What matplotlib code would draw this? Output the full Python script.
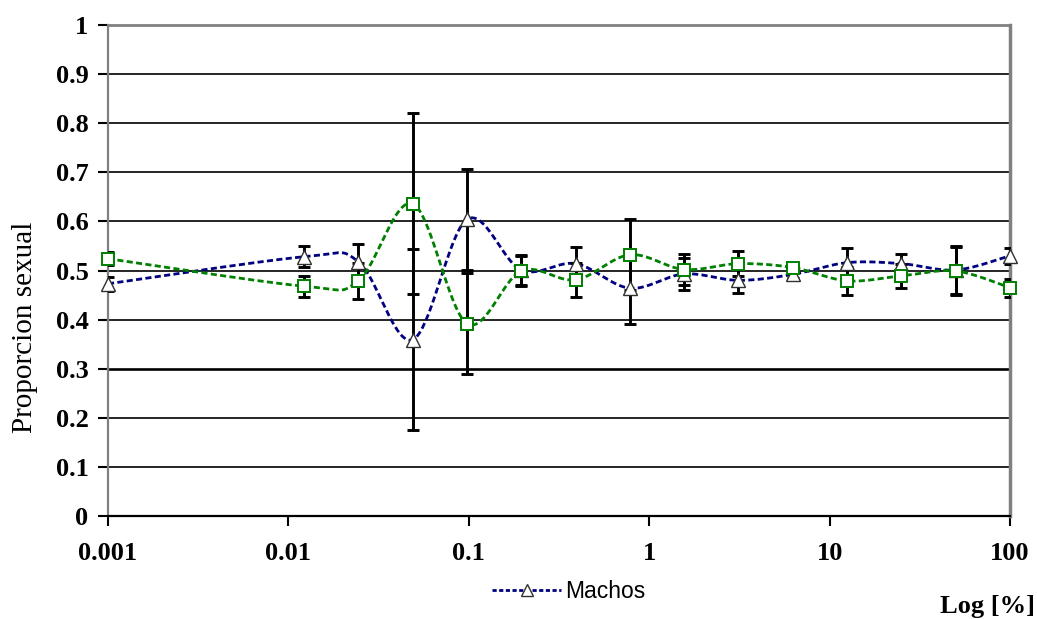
import numpy as np
import matplotlib
matplotlib.use("Agg")
import matplotlib.pyplot as plt
from matplotlib.lines import Line2D

# Concentración (%) de la serie de diluciones y proporción sexual observada
concentracion = [0.001, 0.01220703125, 0.0244140625, 0.048828125, 0.09765625,
                 0.1953125, 0.390625, 0.78125, 1.5625, 3.125, 6.25, 12.5, 25, 50, 100]
machos = [0.473, 0.528, 0.518, 0.359, 0.604, 0.501, 0.514, 0.464, 0.493,
          0.480, 0.492, 0.516, 0.514, 0.501, 0.530]
machos_err = [0.014, 0.021, 0.035, 0.184, 0.102, 0.031, 0.034, 0.072, 0.032,
              0.025, 0.008, 0.029, 0.019, 0.049, 0.016]
hembras = [0.524, 0.468, 0.479, 0.636, 0.392, 0.499, 0.481, 0.532, 0.502,
           0.514, 0.506, 0.479, 0.489, 0.499, 0.465]
hembras_err = [0.013, 0.021, 0.037, 0.184, 0.102, 0.031, 0.034, 0.072, 0.032,
               0.026, 0.008, 0.028, 0.024, 0.049, 0.018]

y_ticks = [0, 0.1, 0.2, 0.3, 0.4, 0.5, 0.6, 0.7, 0.8, 0.9, 1]
y_tick_labels = ["0", "0.1", "0.2", "0.3", "0.4", "0.5", "0.6", "0.7", "0.8", "0.9", "1"]
x_ticks = [0.001, 0.01, 0.1, 1, 10, 100]
x_tick_labels = ["0.001", "0.01", "0.1", "1", "10", "100"]

AZUL = "#000080"
VERDE = "#008000"
SERIF = ["Liberation Serif", "DejaVu Serif"]
SANS = ["Liberation Sans", "DejaVu Sans"]


def curva_suave(xs, ys, n=40):
    """Bezier smoothing through the points (log-x space), like a spreadsheet smoothed line."""
    P = np.column_stack([np.log10(xs), np.asarray(ys, dtype=float)])
    t = np.linspace(0, 1, n)[:, None]
    tramos = []
    for i in range(len(P) - 1):
        p0 = P[i - 1] if i > 0 else P[i]
        p1, p2 = P[i], P[i + 1]
        p3 = P[i + 2] if i + 2 < len(P) else P[i + 1]
        c1 = p1 + (p2 - p0) / 6.0
        c2 = p2 - (p3 - p1) / 6.0
        seg = ((1 - t) ** 3) * p1 + 3 * ((1 - t) ** 2) * t * c1 + 3 * (1 - t) * t ** 2 * c2 + t ** 3 * p2
        tramos.append(seg if i == 0 else seg[1:])
    arr = np.vstack(tramos)
    return 10 ** arr[:, 0], arr[:, 1]


fig = plt.figure(figsize=(10.37, 6.19), dpi=100)
ax = fig.add_axes([108 / 1037, 1 - 516 / 619, (1010 - 108) / 1037, (516 - 25) / 619])

ax.set_xscale("log")
ax.set_xlim(0.001, 100)
ax.set_ylim(0, 1)

# horizontal gridlines
for yv in y_ticks[1:-1]:
    ax.axhline(yv, color="black", lw=1.9 if yv == 0.3 else 1.2, zorder=0.5)

# smoothed dashed lines
xs_m, ys_m = curva_suave(concentracion, machos)
xs_h, ys_h = curva_suave(concentracion, hembras)
ax.plot(xs_m, ys_m, color=AZUL, lw=2.0, dashes=(2.2, 1.2), zorder=2)
ax.plot(xs_h, ys_h, color=VERDE, lw=2.0, dashes=(2.2, 1.2), zorder=2)

# error bars
ax.errorbar(concentracion, machos, yerr=machos_err, fmt="none", ecolor="black",
            elinewidth=2.1, capsize=4.3, capthick=2.1, zorder=3)
ax.errorbar(concentracion, hembras, yerr=hembras_err, fmt="none", ecolor="black",
            elinewidth=2.1, capsize=4.3, capthick=2.1, zorder=3)

# markers
ax.plot(concentracion, machos, ls="none", marker="^", ms=10, mfc="white",
        mec="#303030", mew=1.0, zorder=4, clip_on=False)
ax.plot(concentracion, hembras, ls="none", marker="s", ms=9.3, mfc="white",
        mec=VERDE, mew=1.4, zorder=4, clip_on=False)

# axes styling
ax.spines["left"].set_color("#808080")
ax.spines["left"].set_linewidth(1.6)
ax.spines["bottom"].set_color("black")
ax.spines["bottom"].set_linewidth(1.6)
ax.spines["top"].set_color("#808080")
ax.spines["top"].set_linewidth(2.0)
ax.spines["right"].set_color("#808080")
ax.spines["right"].set_linewidth(2.5)

ax.set_yticks(y_ticks)
ax.set_yticklabels(y_tick_labels)
ax.set_xticks(x_ticks)
ax.set_xticklabels(x_tick_labels)
ax.minorticks_off()
ax.tick_params(axis="both", direction="out", length=7, width=1.5, color="black")
ax.tick_params(axis="y", pad=7)
ax.tick_params(axis="x", pad=12)
for lbl in ax.get_xticklabels() + ax.get_yticklabels():
    lbl.set_family(SERIF)
    lbl.set_fontsize(19)
    lbl.set_fontweight("bold")

fig.text(25 / 1037, 1 - 327 / 619, "Proporcion sexual", rotation=90, ha="center",
         va="center", family=SERIF, fontsize=21)
fig.text(988 / 1037, 1 - 607 / 619, "Log [%]", ha="center", va="center",
         family=SERIF, fontsize=19, fontweight="bold")

handle = Line2D([], [], color=AZUL, lw=2.0, dashes=(1.5, 0.9), marker="^", ms=9,
                mfc="white", mec="#303030", mew=1.0)
fig.legend([handle], ["Machos"], loc="center", bbox_to_anchor=(569 / 1037, 1 - 592 / 619),
           frameon=False, handlelength=3.0, handletextpad=0.2,
           prop={"family": SANS, "size": 16.5})

fig.savefig("out.png", dpi=100)
